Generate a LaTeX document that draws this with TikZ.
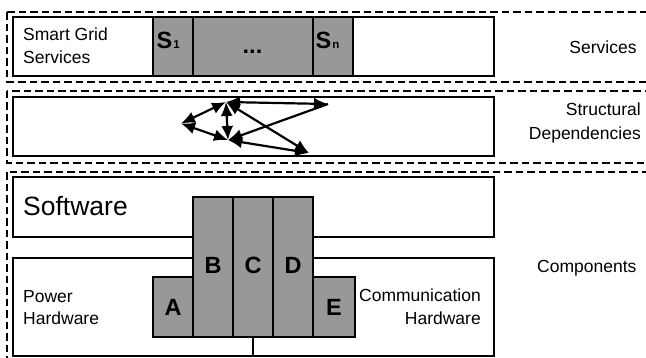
\documentclass[tikz,border=0pt]{standalone}
\usepackage{fontspec}
\setmainfont{Liberation Sans}
\usetikzlibrary{arrows.meta}
\definecolor{blockgray}{RGB}{152,152,152}
\tikzset{
  layer/.style={draw, line width=2pt, dash pattern=on 7.5pt off 4pt},
  solidbox/.style={draw, line width=1.7pt, fill=white},
  graybox/.style={draw, line width=1.7pt, fill=blockgray},
  lbl/.style={font=\fontsize{17.5}{20}\selectfont, inner sep=0pt},
  biglbl/.style={font=\fontsize{26.5}{30}\selectfont, inner sep=0pt},
  letter/.style={font=\fontsize{23.5}{26}\selectfont\bfseries, inner sep=0pt},
  tip/.tip={Latex[length=14pt,width=12pt]},
  dep/.style={line width=2.2pt, tip-tip},
  depone/.style={line width=2.2pt, -tip}
}
\begin{document}
\begin{tikzpicture}[x=1pt,y=-1pt]
\useasboundingbox (0,0) rectangle (646,357);
\clip (0,0) rectangle (646,357);
% layers (dashed)
\path[layer] (7,12) rectangle (660,81.5);
\path[layer] (7,90.5) rectangle (660,162.5);
\path[layer] (7,172) rectangle (660,375);

% services
\path[solidbox] (13,17) rectangle (494,76);
\path[graybox] (153,17) rectangle (193,76);
\path[graybox] (193,17) rectangle (313,76);
\path[graybox] (313,17) rectangle (353,76);
\node[lbl, anchor=base west] (sg1) at (23,40.5) {Smart Grid};
\node[lbl, anchor=base west] (sg2) at (23,63) {Services};
\node[letter, anchor=base west] (s1) at (156.5,48.3) {S\kern1pt{\fontsize{11.5}{12}\selectfont 1}};
\node[letter, anchor=base] (dots) at (252.5,53) {...};
\node[letter, anchor=base west] (sn) at (315.5,48.3) {S\kern1pt{\fontsize{11.5}{12}\selectfont n}};
\node[lbl, anchor=base] (servl) at (603,53) {Services};

% structural dependencies
\path[solidbox] (13,97) rectangle (494,156);
\coordinate (L) at (181,123.5);
\coordinate (T) at (226,102);
\coordinate (B) at (228,140);
\coordinate (R1) at (328,104);
\coordinate (R2) at (309,153);
\draw[dep] (L) -- (T);
\draw[dep] (L) -- (B);
\draw[dep] (T) -- (B);
\draw[dep] (T) -- (R1);
\draw[depone] (R1) -- (B);
\draw[dep] (T) -- (R2);
\draw[dep] (B) -- (R2);
\node[lbl, anchor=base east] (st1) at (641,115) {Structural};
\node[lbl, anchor=base east] (st2) at (641,139.5) {Dependencies};

% components
\path[solidbox] (13,177) rectangle (494,237);
\path[solidbox] (13,258) rectangle (494,356);
\draw[line width=1.7pt] (253,337) -- (253,356);
\path[graybox] (153,277) rectangle (193,337);
\path[graybox] (313,277) rectangle (355,337);
\path[graybox] (193,197) rectangle (233,337);
\path[graybox] (233,197) rectangle (273,337);
\path[graybox] (273,197) rectangle (313,337);
\node[biglbl, anchor=base west] (sw) at (23,215) {Software};
\node[letter, anchor=base] (lb) at (213,273.3) {B};
\node[letter, anchor=base] (lc) at (253,273.3) {C};
\node[letter, anchor=base] (ld) at (293,273.3) {D};
\node[letter, anchor=base] (la) at (173,315) {A};
\node[letter, anchor=base] (le) at (334,315) {E};
\node[lbl, anchor=base west] (pw1) at (23,302.5) {Power};
\node[lbl, anchor=base west] (pw2) at (23,324) {Hardware};
\node[lbl, anchor=base east] (cm1) at (481,301.7) {Communication};
\node[lbl, anchor=base east] (cm2) at (481,324) {Hardware};
\node[lbl, anchor=base west] (comp) at (537,272) {Components};
\end{tikzpicture}
\end{document}
